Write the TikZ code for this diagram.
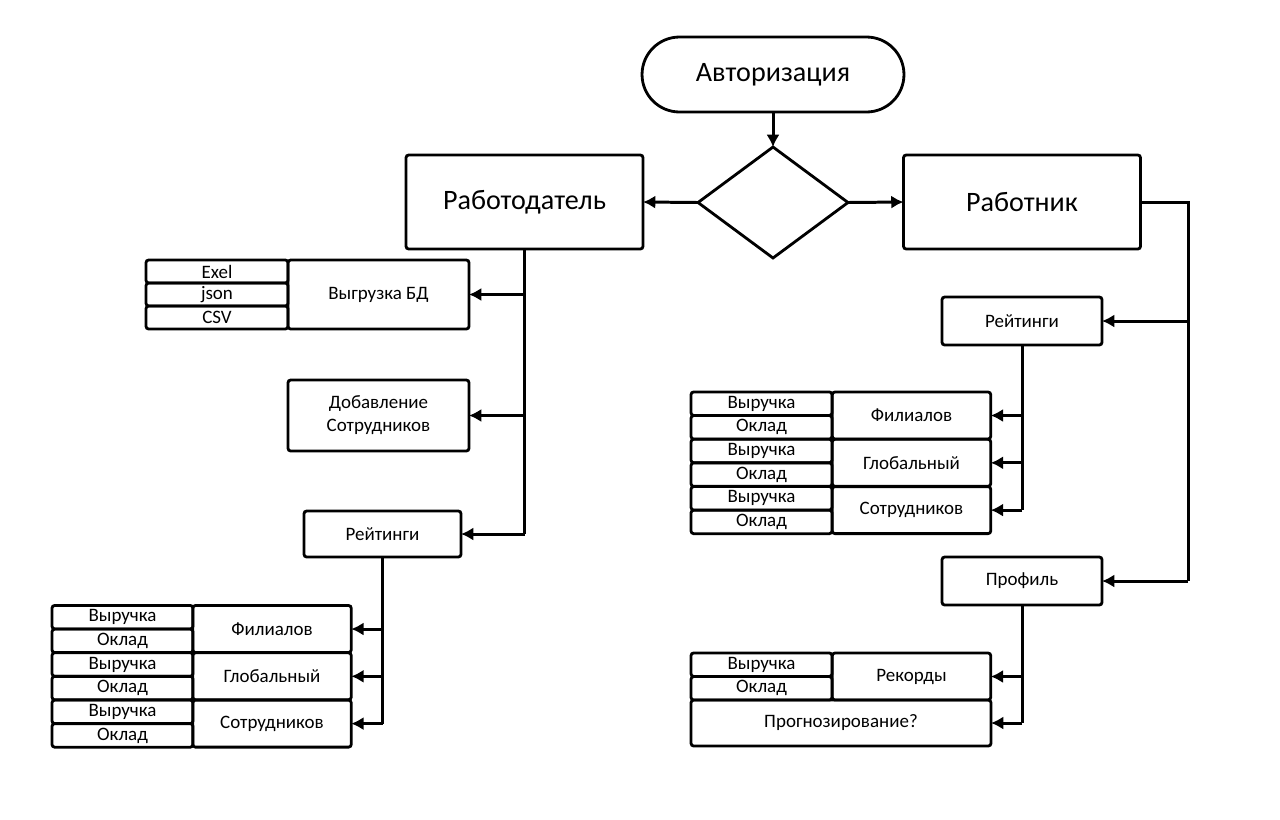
\documentclass[tikz,border=0pt]{standalone}
\usepackage{fontspec}
\setmainfont{Carlito}
\usetikzlibrary{shapes.geometric,arrows.meta}

\tikzset{
	blk/.style = {draw, line width=1.6pt, rounded corners=1.5pt, outer sep=0pt, inner sep=1pt, font=\fontsize{10.8}{13}\selectfont},
	bigblk/.style = {blk, font=\fontsize{16}{19}\selectfont},
	cellL/.style = {blk, minimum width=2.82cm, minimum height=0.47cm},
	cellR/.style = {blk, minimum width=3.17cm, minimum height=0.94cm},
	arr/.style = {line width=1.7pt, -{Latex[length=7pt,width=7.5pt]}},
	ln/.style = {line width=1.7pt}
}

\begin{document}
\begin{tikzpicture}[x=0.02cm, y=-0.02cm]
	\useasboundingbox (0,0) rectangle (1280,819);
	% top
	\node[bigblk, rounded corners=0.75cm, minimum width=5.24cm, minimum height=1.5cm] (auth) at (773,74.5) {Авторизация};
	\node[draw, diamond, line width=1.6pt, minimum width=3cm, minimum height=2.22cm, outer sep=0pt] (dec) at (773,202.5) {};
	\node[bigblk, minimum width=4.74cm, minimum height=1.88cm] (emp) at (524.5,202) {Работодатель};
	\node[bigblk, minimum width=4.74cm, minimum height=1.88cm] (wrk) at (1022,202) {Работник};
	\draw[arr] (auth) -- (dec);
	\draw[arr] (dec.west) -- (emp.east);
	\draw[arr] (dec.east) -- (wrk.east -| wrk.west);

	% employer side
	\node[blk, minimum width=3.62cm, minimum height=1.38cm] (vyg) at (378.5,294.5) {Выгрузка БД};
	\foreach \n/\t [count=\i] in {xl/Exel, js/json, csv/CSV}
		\node[blk, minimum width=2.84cm, minimum height=0.46cm] (\n) at (217,{271.5+(\i-1)*23}) {\t};
	\node[blk, minimum width=3.62cm, minimum height=1.42cm, align=center] (add) at (378.5,415.5) {Добавление\\Сотрудников};
	\node[blk, minimum width=3.14cm, minimum height=0.92cm] (rl) at (382.5,534) {Рейтинги};
	\draw[ln] (emp.south) -- (emp.south |- rl.east);
	\draw[arr] (emp.south |- rl.east) -- (rl.east);
	\draw[arr] (emp.south |- vyg.east) -- (vyg.east);
	\draw[arr] (emp.south |- add.east) -- (add.east);

	\foreach \n/\t [count=\i] in {fil/Филиалов, glob/Глобальный, sotr/Сотрудников} {
		\node[cellR] (L\n) at (272,{629+(\i-1)*47.3}) {\t};
		\node[cellL] (L\n v) at (122.5,{617.2+(\i-1)*47.3}) {Выручка};
		\node[cellL] (L\n o) at (122.5,{640.8+(\i-1)*47.3}) {Оклад};
		\draw[arr] (rl.south |- L\n.east) -- (L\n.east);
	}
	\draw[ln] (rl.south) -- (rl.south |- Lsotr.east);

	% worker side
	\node[blk, minimum width=3.2cm, minimum height=0.96cm] (rr) at (1022,321) {Рейтинги};
	\node[blk, minimum width=3.2cm, minimum height=0.96cm] (pr) at (1022,581) {Профиль};
	\coordinate (wt) at (1188,202);
	\draw[ln] (wrk.east) -- (wt) -- (wt |- pr.east);
	\draw[arr] (wt |- pr.east) -- (pr.east);
	\draw[arr] (wt |- rr.east) -- (rr.east);

	\foreach \n/\t [count=\i] in {fil/Филиалов, glob/Глобальный, sotr/Сотрудников} {
		\node[cellR] (R\n) at (911.5,{415.5+(\i-1)*47.3}) {\t};
		\node[cellL] (R\n v) at (761.5,{403.7+(\i-1)*47.3}) {Выручка};
		\node[cellL] (R\n o) at (761.5,{427.3+(\i-1)*47.3}) {Оклад};
		\draw[arr] (rr.south |- R\n.east) -- (R\n.east);
	}
	\draw[ln] (rr.south) -- (rr.south |- Rsotr.east);

	\node[cellR] (rec) at (911.5,676.5) {Рекорды};
	\node[cellL] (recv) at (761.5,664.7) {Выручка};
	\node[cellL] (reco) at (761.5,688.3) {Оклад};
	\node[blk, minimum width=6cm, minimum height=0.92cm] (prog) at (841,723) {Прогнозирование?};
	\draw[ln] (pr.south) -- (pr.south |- prog.east);
	\draw[arr] (pr.south |- rec.east) -- (rec.east);
	\draw[arr] (pr.south |- prog.east) -- (prog.east);
\end{tikzpicture}
\end{document}
